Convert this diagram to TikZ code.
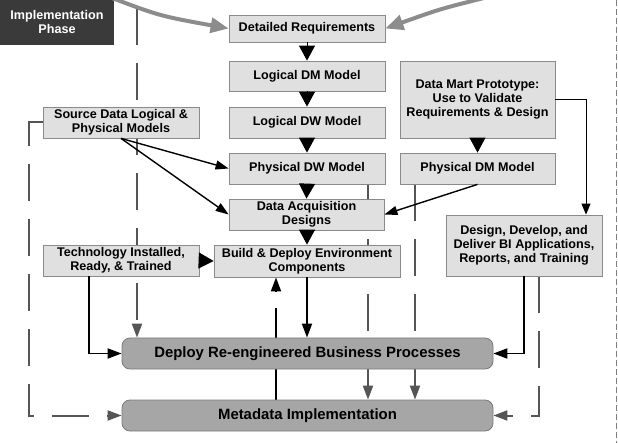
\documentclass[tikz,border=0pt]{standalone}
\usepackage{fontspec}
\setmainfont{Liberation Sans}
\usetikzlibrary{arrows.meta,calc}
\pgfdeclarelayer{bg}\pgfsetlayers{bg,main}
\definecolor{boxfill}{HTML}{E0E0E0}
\definecolor{boxline}{HTML}{8A8A8A}
\definecolor{roundfill}{HTML}{A6A6A6}
\definecolor{roundline}{HTML}{7A7A7A}
\definecolor{darkbox}{HTML}{3A3A3A}
\definecolor{gline}{HTML}{555555}
\definecolor{curvecol}{HTML}{8C8C8C}
\begin{document}
\begin{tikzpicture}[x=1pt,y=-1pt,
 box/.style={draw=boxline,fill=boxfill,line width=0.8pt,inner sep=0pt,align=center,minimum width=156pt,minimum height=31pt,font=\bfseries\fontsize{12.6}{14.2}\selectfont},
 rbox/.style={draw=roundline,fill=roundfill,rounded corners=8pt,line width=0.8pt,inner sep=0pt,minimum width=371pt,minimum height=31pt,font=\bfseries\fontsize{14.9}{17}\selectfont},
 tri/.style={-{Triangle[length=15pt,width=16pt]},line width=1pt},
 blk/.style={line width=1.8pt,-{Triangle[length=14pt,width=10pt]}},
 thinblk/.style={line width=1.4pt,-{Triangle[length=13pt,width=9pt]}},
 gdash/.style={draw=gline,line width=2pt,dash pattern=on 37pt off 18pt,-{Triangle[length=14pt,width=10pt,fill=gline]}},
 curvearrow/.style={draw=curvecol,line width=4pt,-{Triangle[length=18pt,width=15pt,fill=curvecol]}}
]
\useasboundingbox (0,0) rectangle (618,443);

% nodes
\node[fill=darkbox,text=white,inner sep=0pt,minimum width=114pt,minimum height=45pt,align=center,font=\bfseries\fontsize{12.6}{14}\selectfont] (impl) at (57,22.5) {Implementation\\Phase};
\node[box,minimum height=27pt] (req) at (307,28.5) {Detailed Requirements};
\node[box,minimum height=30pt] (ldm) at (307,76) {Logical DM Model};
\node[box] (ldw) at (307,122.5) {Logical DW Model};
\node[box] (pdw) at (307,168.5) {Physical DW Model};
\node[box,minimum width=155pt] (dad) at (306.5,214.5) {Data Acquisition\\Designs};
\node[box,minimum width=186pt,minimum height=32pt] (build) at (307,261) {Build \& Deploy Environment\\Components};
\node[box,minimum width=155pt,minimum height=77pt] (dmp) at (477.5,99.5) {Data Mart Prototype:\\Use to Validate\\Requirements \& Design};
\node[box,minimum width=155pt] (pdm) at (477.5,168.5) {Physical DM Model};
\node[box,minimum height=61pt] (bi) at (524,245.5) {Design, Develop, and\\Deliver BI Applications,\\Reports, and Training};
\node[box] (src) at (121,122.5) {Source Data Logical \&\\Physical Models};
\node[box] (tech) at (121,260.5) {Technology Installed,\\Ready, \& Trained};
\node[rbox] (deploy) at (307.5,353.5) {Deploy Re-engineered Business Processes};
\node[rbox] (meta) at (307.5,415.5) {Metadata Implementation};

% helper coordinates
\coordinate (xa) at (137,0);
\coordinate (xb) at (368,0);
\coordinate (xc) at (415,0);
\coordinate (xd) at (539,0);
\coordinate (xf) at (89,0);
\coordinate (xg) at (276,0);
\coordinate (xh) at (29,0);
\coordinate (xi) at (586,0);
\coordinate (ytop) at (0,8);
\coordinate (ygapa) at (0,308);
\coordinate (ygapb) at (0,292);
\coordinate (lstart) at (112,-2);
\coordinate (rstart) at (484,-2);

\begin{pgfonlayer}{bg}
\draw[gdash] (xa |- ytop) -- (deploy.north -| xa);
\draw[gdash] (src.west) -- (src.west -| xh) -- (meta.west -| xh) -- (meta.west);
\draw[gdash] (pdw.south -| xb) -- (meta.north -| xb);
\draw[gdash] (pdm.south -| xc) -- (meta.north -| xc);
\draw[gdash] (bi.south -| xd) -- (meta.east -| xd) -- (meta.east);
\draw[line width=1.8pt] (meta.north -| xg) -- (xg |- ygapa);
\end{pgfonlayer}

\draw[tri] (req.south) -- (ldm.north);
\draw[tri] (ldm.south) -- (ldw.north);
\draw[tri] (ldw.south) -- (pdw.north);
\draw[tri] (pdw.south) -- (dad.north);
\draw[tri] (dad.south -| req.south) -- (build.north -| req.south);
\draw[tri] (dmp.south) -- (pdm.north);
\draw[tri] (tech.east) -- (build.west);

\draw[thinblk] (src.south) -- (pdw.west);
\draw[thinblk] (src.south) -- (dad.west);
\draw[thinblk] (pdm.south) -- (dad.east);
\draw[line width=1pt,-{Triangle[length=11pt,width=9pt]}] (dmp.east) -| (bi.north -| xi);

\draw[blk] (tech.south -| xf) |- (deploy.west);
\draw[blk] (build.south) -- (deploy.north -| build.south);
\draw[blk] (bi.south) |- (deploy.east);
\draw[blk] (xg |- ygapb) -- (build.south -| xg);

\draw[curvearrow] (lstart) .. controls (160,16) .. (req.west);
\draw[curvearrow] (rstart) .. controls (440,9) .. (req.east);

\draw[draw=gray,line width=0.8pt,dash pattern=on 6pt off 3pt] (616.5,0) -- (616.5,443);
\end{tikzpicture}
\end{document}
